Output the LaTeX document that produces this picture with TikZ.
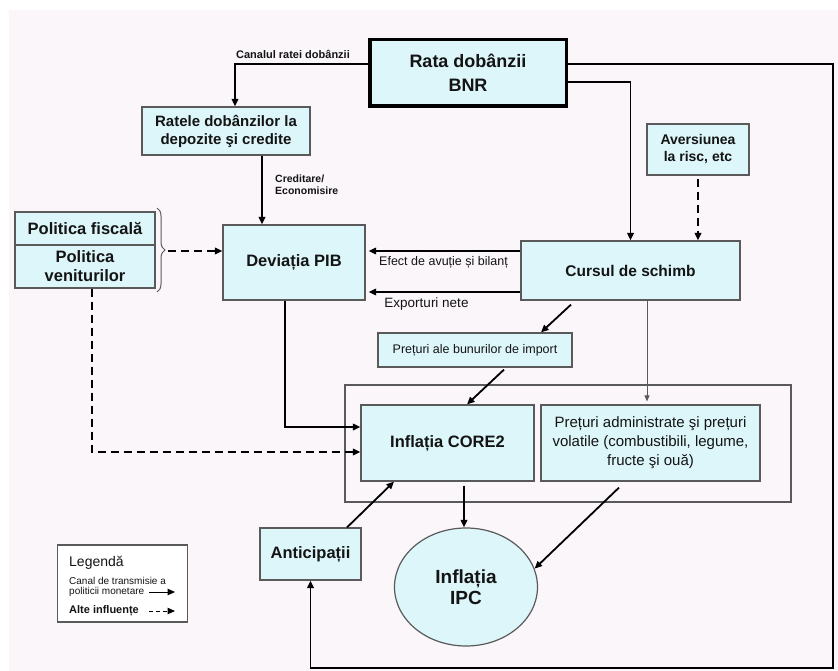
\documentclass[tikz,border=0pt]{standalone}
\usepackage{fontspec}
\setmainfont{Liberation Sans}
\usetikzlibrary{arrows.meta,positioning,calc,shapes.geometric,decorations.pathreplacing}
\definecolor{boxfill}{RGB}{221,246,250}
\definecolor{bgcol}{RGB}{250,246,250}
\definecolor{edgecol}{RGB}{90,90,90}
\definecolor{txtcol}{RGB}{20,20,20}

\begin{document}
\begin{tikzpicture}[x=1pt, y=-1pt,
    box/.style={draw=edgecol, line width=1.2pt, fill=boxfill, align=center, inner sep=1pt, text=txtcol},
    arr/.style={-{Triangle[length=7.5pt,width=6.5pt]}, line width=1.8pt, draw=black},
    darr/.style={arr, dash pattern=on 8pt off 5pt},
    thinarr/.style={-{Triangle[length=6pt,width=5pt]}, line width=1pt, draw=edgecol},
    lbl/.style={font=\fontsize{10.5}{12.5}\selectfont\bfseries, text=txtcol, align=left, inner sep=0pt},
    note/.style={font=\fontsize{12.5}{14}\selectfont, text=txtcol, inner sep=0pt},
  ]
                % Background
                \useasboundingbox (0,0) rectangle (838,671);
                \fill[bgcol] (9,10) rectangle (838,671);

                % Policy rate (source of all channels)
                \node[box, draw=black, line width=3.5pt, minimum width=196.5pt, minimum height=66.5pt,
                      font=\fontsize{18}{24}\selectfont\bfseries] (bnr) at (468,73) {Rata dobânzii\\BNR};

                % Interest rate channel
                \node[box, minimum width=168pt, minimum height=48pt, font=\fontsize{15}{18}\selectfont\bfseries]
                      (ratele) at (226,131) {Ratele dobânzilor la\\depozite şi credite};
                \node[box, minimum width=142pt, minimum height=75pt, font=\fontsize{16.5}{19}\selectfont\bfseries]
                      (deviatia) at (294,262.5) {Deviația PIB};

                % Fiscal and income policy
                \node[box, minimum width=140pt, minimum height=33pt, font=\fontsize{16.5}{19}\selectfont\bfseries]
                      (fiscal) at (85,228.5) {Politica fiscală};
                \node[box, minimum width=140pt, minimum height=43pt, font=\fontsize{16.5}{19}\selectfont\bfseries]
                      (venit) at (85,266.5) {Politica\\veniturilor};

                % Exchange rate channel
                \node[box, minimum width=219pt, minimum height=59pt, font=\fontsize{15.5}{18}\selectfont\bfseries]
                      (cursul) at (630.5,270.5) {Cursul de schimb};
                \node[box, minimum width=102pt, minimum height=51pt, font=\fontsize{14}{17}\selectfont\bfseries]
                      (aversiunea) at (698,149.5) {Aversiunea\\la risc, etc};
                \node[box, minimum width=194pt, minimum height=34pt, font=\fontsize{12.5}{15}\selectfont]
                      (importuri) at (475,350) {Prețuri ale bunurilor de import};

                % Inflation components
                \node[draw=edgecol, line width=1.2pt, minimum width=446pt, minimum height=117pt] (grup) at (568,443.5) {};
                \node[box, minimum width=173pt, minimum height=76pt, font=\fontsize{16.5}{19}\selectfont\bfseries]
                      (core) at (447.5,443) {Inflația CORE2};
                \node[box, minimum width=219pt, minimum height=76pt, font=\fontsize{15}{19}\selectfont]
                      (admin) at (650.5,443) {Prețuri administrate şi prețuri\\volatile (combustibili, legume,\\fructe şi ouă)};
                \node[box, ellipse, minimum width=143pt, minimum height=118pt, inner sep=0pt,
                      font=\fontsize{19}{21}\selectfont\bfseries] (ipc) at (466,587) {Inflația\\IPC};
                \node[box, minimum width=101pt, minimum height=52pt, font=\fontsize{16.5}{19}\selectfont\bfseries]
                      (antic) at (310.5,554) {Anticipații};

                % Channel labels
                \node[lbl, font=\fontsize{11}{12.5}\selectfont\bfseries] (canal) at (293,54) {Canalul ratei dobânzii};
                \node[lbl, anchor=west] (credit) at (275,184.5) {Creditare/\\Economisire};
                \node[note] (efect) at (443.5,262) {Efect de avuție și bilanț};
                \node[note, font=\fontsize{13.5}{15}\selectfont] (export) at (426.5,304) {Exporturi nete};

                % Monetary transmission arrows
                \draw[arr] ([yshift=9pt]bnr.west) -| ([xshift=9pt]ratele.north);
                \draw[arr] ([xshift=36pt]ratele.south) -- ([xshift=36pt]ratele.south |- deviatia.north);
                \draw[arr] ([yshift=-9pt]bnr.east) -| (cursul.north);
                \draw[arr, shorten >=3pt] ([yshift=19.5pt]cursul.west) -- ([yshift=19.5pt]cursul.west -| deviatia.east);
                \draw[arr, shorten >=3pt] ([yshift=-21.5pt]cursul.west) -- ([yshift=-21.5pt]cursul.west -| deviatia.east);
                \draw[arr] ([xshift=-59.5pt,yshift=-4pt]cursul.south) -- ([xshift=66pt]importuri.north);
                \draw[arr] ([xshift=29pt,yshift=-2pt]importuri.south) -- ([xshift=19.5pt]core.north);
                \draw[thinarr] ([xshift=16.5pt]cursul.south) -- ([xshift=16.5pt,yshift=3pt]cursul.south |- admin.north);
                \draw[arr] ([xshift=-9pt]deviatia.south) |- ([yshift=16pt]core.west);
                \draw[arr] ([xshift=36.5pt]antic.north) -- ([xshift=-53.5pt]core.south);
                \draw[arr] ([xshift=16.5pt,yshift=-4pt]core.south) -- ([xshift=16.5pt]core.south |- ipc.north);
                \draw[arr] ([xshift=-31.5pt,yshift=-6pt]admin.south) -- (ipc.15);

                % Expectations loop from the policy rate
                \coordinate (colt) at (833,668);
                \draw[arr] ([yshift=9pt]bnr.east) -| (colt) -| (antic.south);

                % Other influences (dashed)
                \coordinate (acoladasus) at (157,208);
                \coordinate (acoladajos) at (157,292);
                \coordinate (acoladavarf) at (168,251);
                \draw[decorate, decoration={brace, amplitude=8pt}, draw=edgecol, line width=1pt] (acoladasus) -- (acoladajos);
                \draw[darr] (acoladavarf) -- (acoladavarf -| deviatia.west);
                \draw[darr] ([yshift=-3pt]aversiunea.south) -- (aversiunea.south |- cursul.north);
                \draw[darr] ([xshift=7pt]venit.south) |- ([yshift=-9pt]core.west);

                % Legend
                \node[draw=edgecol, line width=1.2pt, fill=white, minimum width=130pt, minimum height=77pt] (legenda) at (122.5,583.5) {};
                \node[anchor=west, inner sep=0pt, text=txtcol, font=\fontsize{14}{16}\selectfont] (legtitlu) at (69,563) {Legendă};
                \node[anchor=west, inner sep=0pt, text=txtcol, align=left, font=\fontsize{10}{10.5}\selectfont]
                      (legcanal) at (69,587) {Canal de transmisie a\\politicii monetare};
                \node[anchor=west, inner sep=0pt, text=txtcol, font=\fontsize{11}{12}\selectfont\bfseries] (legalte) at (69,611) {Alte influențe};
                \coordinate (legcapa) at (175,592);
                \coordinate (legcapb) at (175,611);
                \draw[arr, line width=1pt] ([xshift=-26pt]legcapa) -- (legcapa);
                \draw[darr, line width=1pt, dash pattern=on 4pt off 3pt] ([xshift=-26pt]legcapb) -- (legcapb);
\end{tikzpicture}
\end{document}
